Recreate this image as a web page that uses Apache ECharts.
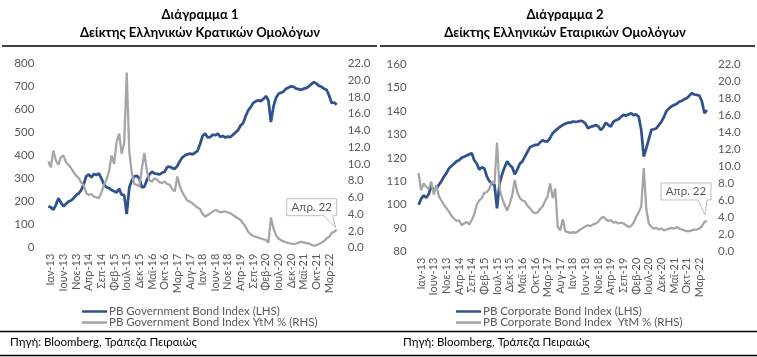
<!DOCTYPE html>
<html><head><meta charset="utf-8">
<script src="https://cdn.jsdelivr.net/npm/echarts@6/dist/echarts.min.js"></script>
<style>html,body{margin:0;padding:0;background:#fff}#c{width:757px;height:357px}</style>
</head><body><div id="c"></div>
<script>
const monthNames = ['Ιαν','Φεβ','Μαρ','Απρ','Μαϊ','Ιουν','Ιουλ','Αυγ','Σεπ','Οκτ','Νοε','Δεκ'];
const categories = [];
for (let k = 0; k < 115; k++) {
  const mi = (11 + k) % 12, yy = 12 + Math.floor((11 + k) / 12);
  categories.push(monthNames[mi] + '-' + yy);
}
const tickLabels = ['Ιαν-13','Ιουν-13','Νοε-13','Απρ-14','Σεπ-14','Φεβ-15','Ιουλ-15','Δεκ-15','Μαϊ-16','Οκτ-16','Μαρ-17','Αυγ-17','Ιαν-18','Ιουν-18','Νοε-18','Απρ-19','Σεπ-19','Φεβ-20','Ιουλ-20','Δεκ-20','Μαϊ-21','Οκτ-21','Μαρ-22'];

const govIndex = [180,175,165,185,215,195,180,190,200,205,
 215,228,235,250,275,310,318,305,320,315,
 322,300,275,262,258,250,245,240,255,230,
 228,146,260,292,310,312,300,262,265,295,
 318,330,322,320,318,325,330,350,352,345,
 342,355,375,392,400,405,408,405,412,420,
 450,485,495,478,480,490,488,495,480,485,
 478,482,480,490,500,510,530,540,570,595,
 610,628,635,640,636,645,658,640,545,612,
 650,668,672,678,690,695,700,698,690,688,
 685,690,692,700,710,718,712,702,698,690,
 685,660,628,630,620];
const govYield = [10.3,9.6,11.6,10.4,9.9,10.8,11.0,10.2,9.9,9.5,
 9.0,8.6,8.3,7.8,7.4,6.5,6.3,6.4,6.1,6.0,
 5.9,6.6,7.5,8.1,9.1,11.0,10.0,12.6,13.6,11.2,
 12.5,20.9,11.5,8.9,7.6,7.5,7.3,9.5,11.3,9.1,
 8.0,7.9,8.3,8.1,7.8,7.7,7.9,7.6,7.5,7.0,
 6.7,8.5,7.3,6.6,6.1,5.6,5.5,5.3,5.0,4.8,
 4.6,4.0,3.7,3.9,4.1,4.3,4.5,4.4,4.2,4.3,
 4.3,4.2,4.1,3.9,3.7,3.5,3.3,2.9,2.5,1.9,
 1.6,1.4,1.3,1.2,1.1,1.0,0.95,0.6,3.6,2.3,
 1.5,1.1,0.9,0.75,0.65,0.55,0.5,0.47,0.5,0.6,
 0.7,0.6,0.55,0.5,0.35,0.25,0.3,0.45,0.6,0.8,
 1.1,1.3,1.75,1.9,2.15];
const corpIndex = [100,102.5,104,103,104.5,108,106,107,108.5,110,
 112,113.5,115.5,116.5,117.5,118.5,119,120,120.5,121,
 121.5,122,119,117.5,115,116,115.5,112,110,109,
 108.5,98.5,109,113,116,118.5,117,116,113,115,
 117.5,118.5,120.5,122.5,124.5,125,125.5,125.5,126.5,127.5,
 127,127,128.5,130.5,131.5,132.5,133.3,134,134.5,135,
 135,135.5,135.3,135.5,135.8,135.5,134.5,132.6,133.2,133.5,
 134,133.5,131.9,133,135,134,133.3,135.4,136,136.5,
 137.5,138.3,138,138.5,139,138.2,138.5,137.5,132,120.5,
 124,128,131.9,132.2,132.6,134,135.4,137.5,140,141,
 142,142.5,143,143.9,144.3,145,145.4,146.5,147.5,147,
 146.8,146.5,144,139,140.4];
const corpYield = [9.2,7.2,8.0,7.6,7.4,8.2,6.7,7.8,6.5,6.0,
 5.5,5.1,4.7,4.2,3.9,3.6,3.7,3.1,3.3,3.5,
 3.2,3.7,4.4,5.5,6.0,6.3,6.9,7.0,7.4,8.2,
 8.0,12.8,7.4,6.3,5.5,4.8,5.6,6.6,8.4,7.0,
 6.3,6.0,5.9,5.4,5.1,4.7,4.5,4.6,5.0,5.3,
 5.9,6.5,8.0,6.3,7.4,2.9,2.5,3.8,2.4,2.3,
 2.2,2.3,2.2,2.4,2.6,2.8,3.0,3.1,3.0,3.2,
 3.3,3.5,3.9,4.1,3.8,3.6,3.7,3.4,3.5,3.3,
 3.4,3.3,3.1,2.9,3.0,3.4,4.1,4.6,5.3,9.8,
 5.0,3.3,2.9,2.7,2.8,2.6,2.7,2.5,2.6,2.7,
 2.8,2.7,2.9,2.7,2.6,2.5,2.4,2.4,2.5,2.6,
 2.6,2.7,3.0,3.5,3.6];

const seriesNames = ['PB Government Bond Index (LHS)','PB Government Bond Index YtM % (RHS)','PB Corporate Bond Index (LHS)','PB Corporate Bond Index  YtM % (RHS)'];
const titles1 = ['Διάγραμμα 1','Δείκτης Ελληνικών Κρατικών Ομολόγων'];
const titles2 = ['Διάγραμμα 2','Δείκτης Ελληνικών Εταιρικών Ομολόγων'];
const sourceText = 'Πηγή: Bloomberg, Τράπεζα Πειραιώς';
const calloutText = 'Απρ. 22';

const FONT = 'Lato, "Open Sans", sans-serif';
const BLUE = '#2F528F', GRAY = '#A5A5A5', TXT = '#595959';

function xAx(gi) {
  return {
    type:'category', gridIndex: gi, data: categories, boundaryGap:false,
    axisLine:{show:false}, axisTick:{show:false}, splitLine:{show:false},
    axisLabel:{rotate:90, margin:6, color:TXT, fontSize:11, fontFamily:FONT,
      interval:(idx, val) => tickLabels.indexOf(val) >= 0}
  };
}
function yAx(gi, pos, min, max, interval, dec, margin) {
  return {
    type:'value', gridIndex: gi, position: pos, min, max, interval,
    axisLine:{show:false}, axisTick:{show:false}, splitLine:{show:false},
    axisLabel:{color:TXT, fontSize:11.5, fontFamily:FONT, margin,
      formatter: v => dec ? v.toFixed(1) : String(v)}
  };
}
function lineS(name, xi, yi, data, color, w) {
  return {name, type:'line', xAxisIndex:xi, yAxisIndex:yi, data, symbol:'none', showSymbol:false,
    lineStyle:{color, width:w}, itemStyle:{color}, animation:false};
}
function legendOf(name, left, top) {
  return {data:[{name, icon:'rect'}], orient:'vertical', left, top, padding:0,
    itemWidth:25, itemHeight:2.5, itemGap:0,
    textStyle:{color:TXT, fontSize:11.5, lineHeight:10, fontFamily:FONT, padding:[0,0,0,-3]}};
}

const chart = echarts.init(document.getElementById('c'), null, {renderer:'canvas'});
const option = {
  animation:false,
  backgroundColor:'#fff',
  grid:[
    {left:48.3, right:420.3, top:63.3, bottom:109.3},
    {left:418.6, right:50, top:64, bottom:105.3}
  ],
  xAxis:[xAx(0), xAx(1)],
  yAxis:[
    yAx(0,'left',0,800,100,false,14),
    yAx(0,'right',0,22,2,true,11),
    yAx(1,'left',80,160,10,false,12),
    yAx(1,'right',0,22,2,true,11)
  ],
  legend:[
    legendOf(seriesNames[0], 82, 305.5),
    legendOf(seriesNames[1], 82, 316.5),
    legendOf(seriesNames[2], 456, 305.5),
    legendOf(seriesNames[3], 456, 316.5)
  ],
  series:[
    lineS(seriesNames[0],0,0,govIndex,BLUE,2.75),
    lineS(seriesNames[1],0,1,govYield,GRAY,2.25),
    lineS(seriesNames[2],1,2,corpIndex,BLUE,2.75),
    lineS(seriesNames[3],1,3,corpYield,GRAY,2.25)
  ]
};
chart.setOption(option);

function callout(p, dx, dy, tipdx, tipdy) {
  const bx1 = p[0] + dx, by1 = p[1] + dy, bx0 = bx1 - 50, by0 = by1 - 17;
  const tip = [p[0] + tipdx, p[1] + tipdy];
  return [
    {type:'polygon', shape:{points:[[bx0,by0],[bx1,by0],[bx1,by1],[bx1-4,by1],tip,[bx1-13,by1],[bx0,by1]]},
     style:{fill:'#fff', stroke:'#BFBFBF', lineWidth:1}, z:100},
    {type:'text', x:(bx0+bx1)/2, y:(by0+by1)/2, z:101,
     style:{text:calloutText, align:'center', verticalAlign:'middle', font:'11.5px ' + FONT, fill:TXT}}
  ];
}
const last = categories.length - 1;
const p1 = chart.convertToPixel({seriesIndex:1}, [last, govYield[last]]);
const p2 = chart.convertToPixel({seriesIndex:3}, [last, corpYield[last]]);

function txt(x, y, text, font, align) {
  return {type:'text', x, y, style:{text, align:align||'center', verticalAlign:'middle', font, fill:'#000'}};
}
function hline(x1, x2, y, w) {
  return {type:'line', shape:{x1, y1:y, x2, y2:y}, style:{stroke:'#000', lineWidth:w}};
}
const graphics = [
  txt(200, 15, titles1[0], 'bold 13px ' + FONT),
  txt(200, 33, titles1[1], 'bold 13px ' + FONT),
  txt(565, 15, titles2[0], 'bold 13px ' + FONT),
  txt(565, 33, titles2[1], 'bold 13px ' + FONT),
  hline(2, 377, 46, 1.5),
  hline(380, 755, 46, 1.5),
  hline(0, 757, 331.5, 1.5),
  hline(0, 757, 355.5, 1.5),
  txt(10, 342, sourceText, '11.5px ' + FONT, 'left'),
  txt(403, 342, sourceText, '11.5px ' + FONT, 'left')
].concat(callout(p1, 0, -14, -1, -2), callout(p2, 4, -21, -2, -6));
chart.setOption({graphic: graphics});
</script></body></html>
